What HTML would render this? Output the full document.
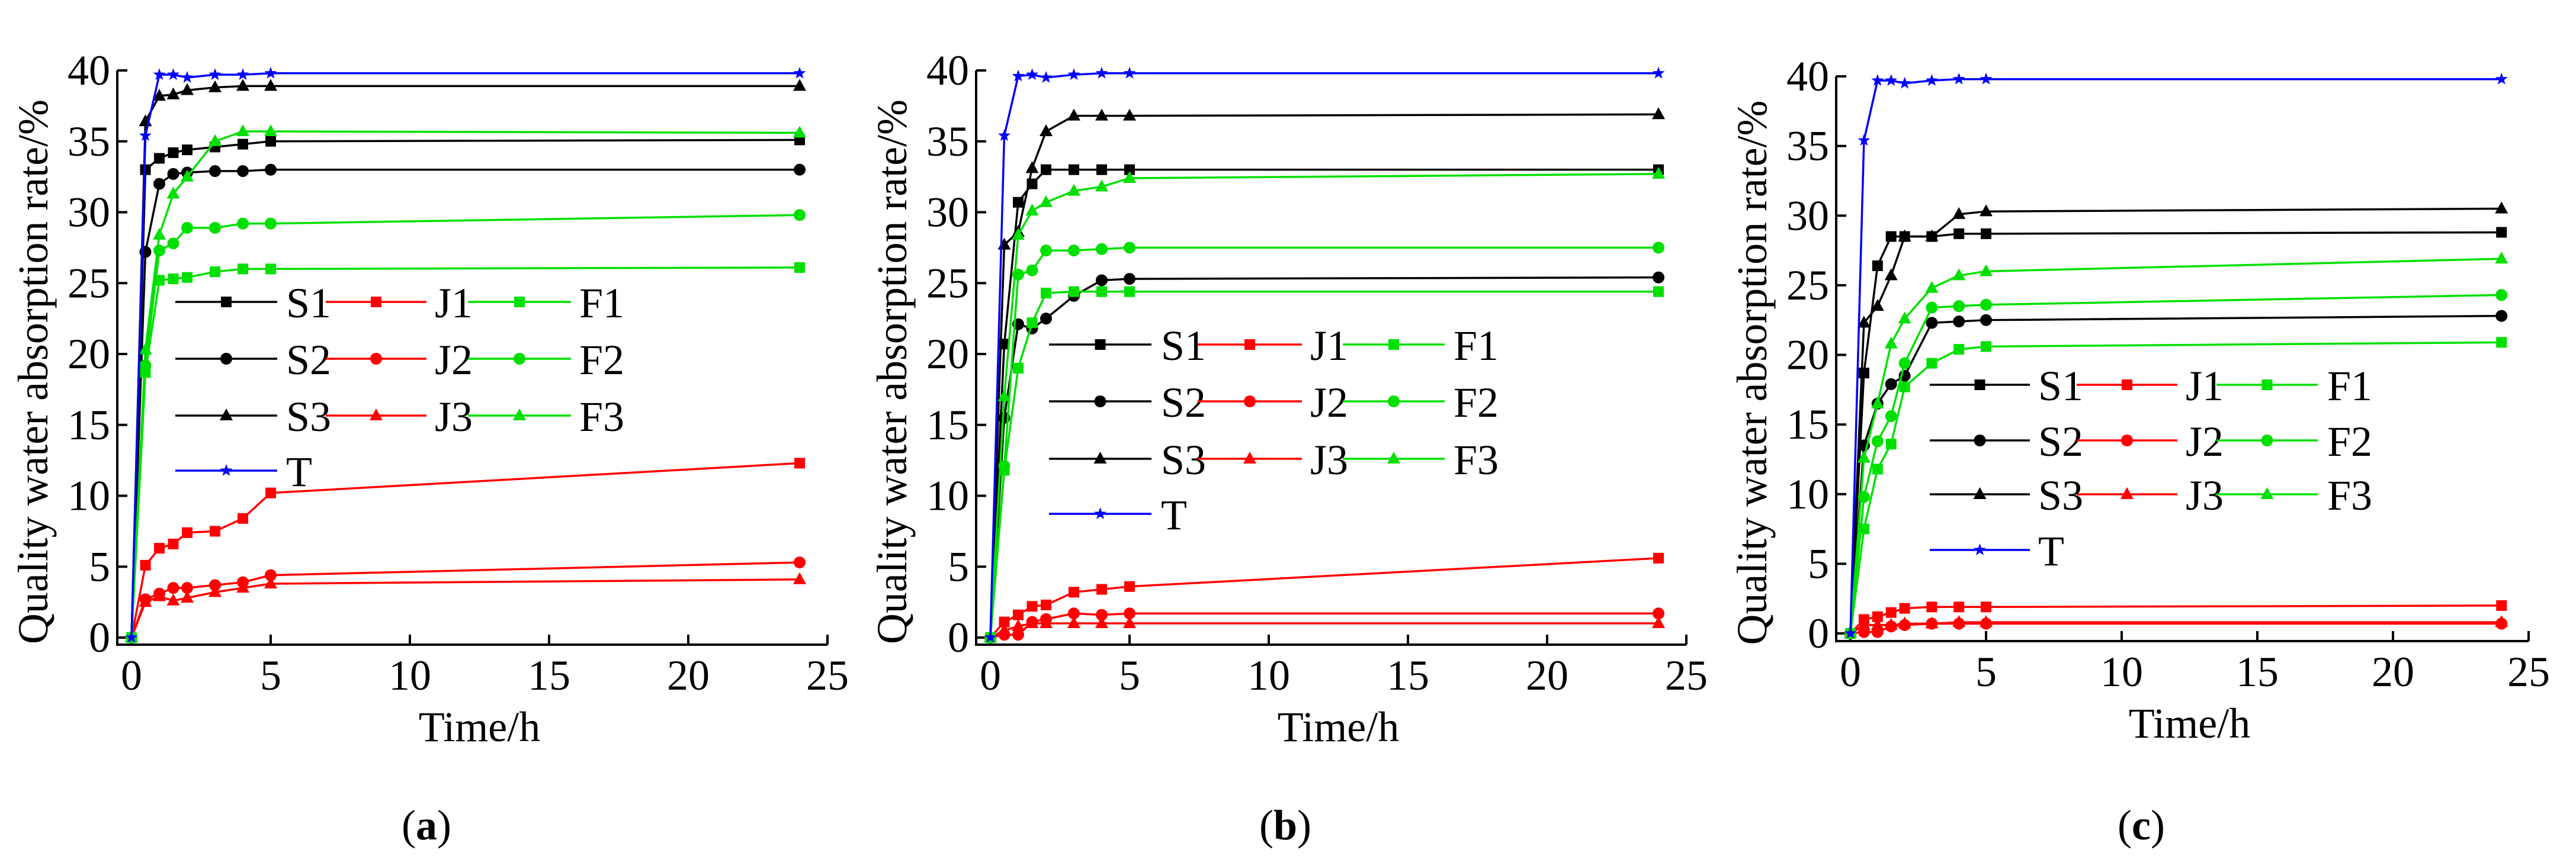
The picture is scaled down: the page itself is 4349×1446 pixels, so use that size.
<!DOCTYPE html>
<html><head><meta charset="utf-8"><style>
html,body{margin:0;padding:0;background:#fff;}
svg{display:block;}
svg text{font-family:"Liberation Serif","Times New Roman",serif;}
</style></head><body>
<svg id="fig" width="4349" height="1446" viewBox="0 0 4349 1446" xmlns="http://www.w3.org/2000/svg" font-family="Liberation Serif, serif"></svg>
<script>
const times = [0,0.5,1,1.5,2,3,4,5,24];
const seriesNames = ["S1","S2","S3","J1","J2","J3","F1","F2","F3","T"];
const xTicks = [0,5,10,15,20,25];
const yTicks = [0,5,10,15,20,25,30,35,40];
// Panel (a)
const aS1 = [0,33,33.8,34.2,34.4,34.6,34.8,35,35.1];
const aS2 = [0,27.2,32,32.7,32.8,32.9,32.9,33,33];
const aS3 = [0,36.4,38.2,38.3,38.6,38.8,38.9,38.9,38.9];
const aJ1 = [0,5.1,6.3,6.6,7.4,7.5,8.4,10.2,12.3];
const aJ2 = [0,2.7,3.1,3.5,3.5,3.7,3.9,4.4,5.3];
const aJ3 = [0,2.5,2.9,2.6,2.8,3.2,3.5,3.8,4.1];
const aF1 = [0,18.7,25.2,25.3,25.4,25.8,26,26,26.1];
const aF2 = [0,19.2,27.3,27.8,28.9,28.9,29.2,29.2,29.8];
const aF3 = [0,20.3,28.4,31.3,32.5,35,35.7,35.7,35.6];
const aT  = [0,35.4,39.7,39.7,39.5,39.7,39.7,39.8,39.8];
// Panel (b)
const bS1 = [0,20.7,30.7,32,33,33,33,33,33];
const bS2 = [0,15.5,22.1,21.8,22.5,24.1,25.2,25.3,25.4];
const bS3 = [0,27.7,28.6,33.1,35.7,36.8,36.8,36.8,36.9];
const bJ1 = [0,1.1,1.6,2.2,2.3,3.2,3.4,3.6,5.6];
const bJ2 = [0,0.2,0.2,1.1,1.3,1.7,1.6,1.7,1.7];
const bJ3 = [0,0.5,0.8,1.0,1.0,1.0,1.0,1.0,1.0];
const bF1 = [0,11.8,19,22.2,24.3,24.4,24.4,24.4,24.4];
const bF2 = [0,12.1,25.6,25.9,27.3,27.3,27.4,27.5,27.5];
const bF3 = [0,17,28.4,30.1,30.7,31.5,31.8,32.4,32.7];
const bT  = [0,35.4,39.6,39.7,39.5,39.7,39.8,39.8,39.8];
// Panel (c)
const cS1 = [0,18.7,26.4,28.5,28.5,28.5,28.7,28.7,28.8];
const cS2 = [0,13.5,16.5,17.9,18.5,22.3,22.4,22.5,22.8];
const cS3 = [0,22.3,23.5,25.7,28.5,28.5,30.1,30.3,30.5];
const cJ1 = [0,1.0,1.2,1.5,1.8,1.9,1.9,1.9,2.0];
const cJ2 = [0,0.1,0.1,0.5,0.6,0.7,0.7,0.7,0.7];
const cJ3 = [0,0.6,0.6,0.6,0.7,0.7,0.8,0.8,0.8];
const cF1 = [0,7.5,11.8,13.6,17.7,19.4,20.4,20.6,20.9];
const cF2 = [0,9.8,13.8,15.6,19.4,23.4,23.5,23.6,24.3];
const cF3 = [0,12.6,16.5,20.8,22.6,24.8,25.7,26,26.9];
const cT  = [0,35.4,39.7,39.7,39.5,39.7,39.8,39.8,39.8];

const NS="http://www.w3.org/2000/svg";
const svg=document.getElementById('fig');
const FF="Liberation Serif, serif";
function el(tag,attrs,parent){const e=document.createElementNS(NS,tag);for(const k in attrs)e.setAttribute(k,attrs[k]);(parent||svg).appendChild(e);return e;}
const colors={S:"#000000",J:"#ff0000",F:"#00e000",T:"#0000ff"};
function marker(g,name,cx,cy,col){
  const d=name[name.length-1];
  let m;
  if(name==="T"){
    const pts=[];for(let i=0;i<10;i++){const r=i%2?4.5:11;const a=-Math.PI/2+i*Math.PI/5;pts.push((cx+r*Math.cos(a)).toFixed(1)+","+(cy+r*Math.sin(a)).toFixed(1));}
    m=el('polygon',{points:pts.join(' '),fill:col},g);
  } else if(d==="1"){ m=el('rect',{x:cx-9,y:cy-9,width:18,height:18,fill:col},g);
  } else if(d==="2"){ m=el('circle',{cx:cx,cy:cy,r:10,fill:col},g);
  } else { m=el('polygon',{points:`${cx},${cy-12} ${cx-11},${cy+8} ${cx+11},${cy+8}`,fill:col},g); }
  
  
}
function panel(p){
  const g=el('g',{});
  
  
  const X=v=>p.x0+(p.x25-p.x0)*v/25, Y=v=>p.y0+(p.y40-p.y0)*v/40;
  const ax=el('path',{d:`M${p.spL},${p.y40} V${p.spB} H${X(25)}`,stroke:"#000","stroke-width":4,fill:"none"},g);
  
  
  yTicks.forEach(v=>{
    const t=el('line',{x1:p.spL,x2:p.spL+17,y1:Y(v),y2:Y(v),stroke:"#000","stroke-width":4},g);
    
    
    const l=el('text',{x:p.spL-12,y:Y(v)+24,"font-size":72,"font-family":FF,"text-anchor":"end",fill:"#000"},g);
    l.textContent=v;
    
    
  });
  xTicks.forEach(v=>{
    const t=el('line',{x1:X(v),x2:X(v),y1:p.spB,y2:p.spB-17,stroke:"#000","stroke-width":4},g);
    
    
    const l=el('text',{x:X(v),y:p.spB+76,"font-size":72,"font-family":FF,"text-anchor":"middle",fill:"#000"},g);
    l.textContent=v;
    
    
  });
  const xt=el('text',{x:(X(0)+X(25))/2,y:p.spB+163,"font-size":72,"font-family":FF,"text-anchor":"middle",fill:"#000"},g);
  xt.textContent="Time/h";
  
  
  const yt=el('text',{x:0,y:0,"font-size":72,"font-family":FF,"text-anchor":"middle",textLength:920,lengthAdjust:"spacingAndGlyphs",fill:"#000",transform:`translate(${p.spL-118},${(p.y0+p.y40)/2+30}) rotate(-90)`},g);
  yt.textContent="Quality water absorption rate/%";
  
  
  seriesNames.forEach((n,i)=>{
    const vals=p.data[i], col=colors[n[0]];
    const sg=el('g',{},g);
    
    
    el('polyline',{points:times.map((t,k)=>X(t)+","+Y(vals[k])).join(' '),fill:"none",stroke:col,"stroke-width":3.5},sg);
    times.forEach((t,k)=>marker(sg,n,X(t),Y(vals[k]),col));
  });
  const lg=el('g',{},g);
  
  
  const entries=[["S1",0,0],["J1",1,0],["F1",2,0],["S2",0,1],["J2",1,1],["F2",2,1],["S3",0,2],["J3",1,2],["F3",2,2],["T",0,3]];
  entries.forEach(([n,c,r])=>{
    const lx=p.legCols[c], y=p.legRows[r], col=colors[n[0]];
    const eg=el('g',{},lg);
    
    
    el('line',{x1:lx[0],x2:lx[1],y1:y,y2:y,stroke:col,"stroke-width":3.5},eg);
    marker(eg,n,(lx[0]+lx[1])/2,y,col);
    const tx=el('text',{x:lx[2],y:y+26,"font-size":72,"font-family":FF,fill:"#000"},eg);
    tx.textContent=n;
  });
  const cap=el('text',{x:p.capX,y:1418,"font-size":72,"font-family":FF,"text-anchor":"middle",fill:"#000"},g);
  cap.innerHTML='(<tspan font-weight="bold">'+p.id+'</tspan>)';
  
  
}
panel({id:"a",x0:222,x25:1397,y0:1077,y40:119,spL:198,spB:1089,capX:720,
  legRows:[510,606,702,795],legCols:[[296,468,483],[550,720,734],[790,964,978]],
  data:[aS1,aS2,aS3,aJ1,aJ2,aJ3,aF1,aF2,aF3,aT]});
panel({id:"b",x0:1672,x25:2847,y0:1077,y40:119,spL:1648,spB:1089,capX:2170,
  legRows:[582,678,775,868],legCols:[[1771,1944,1960],[2022,2198,2212],[2267,2439,2454]],
  data:[bS1,bS2,bS3,bJ1,bJ2,bJ3,bF1,bF2,bF3,bT]});
panel({id:"c",x0:3124,x25:4269,y0:1070,y40:129,spL:3100,spB:1083,capX:3615,
  legRows:[650,744,835,929],legCols:[[3258,3427,3441],[3506,3676,3690],[3742,3913,3929]],
  data:[cS1,cS2,cS3,cJ1,cJ2,cJ3,cF1,cF2,cF3,cT]});
</script>
</body></html>
